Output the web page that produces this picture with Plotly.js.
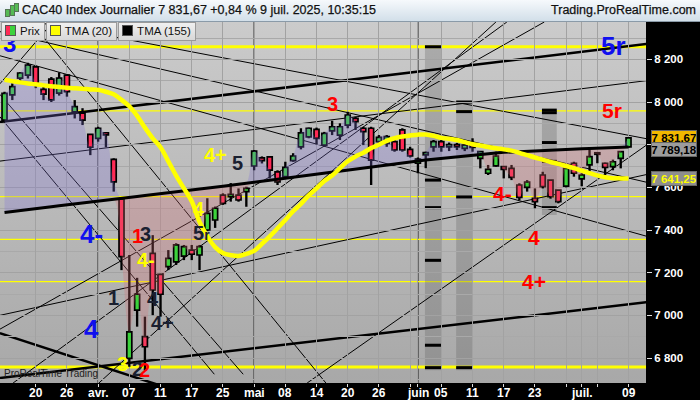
<!DOCTYPE html>
<html><head><meta charset="utf-8">
<script src="https://cdn.plot.ly/plotly-3.0.1.min.js"></script>
<style>
body{margin:0;width:700px;height:400px;overflow:hidden;background:#000;font-family:"Liberation Sans",Arial,sans-serif;position:relative}
#hdr{position:absolute;left:0;top:0;width:700px;height:21px;background:linear-gradient(#f6f9fc,#d2dfe9);border-bottom:1px solid #8a9aa8;z-index:3}
#hdr .t{position:absolute;left:22px;top:3px;font-size:12.5px;color:#111;white-space:nowrap;-webkit-text-stroke:0.25px #111}
#hdr .r{position:absolute;right:4px;top:3px;font-size:12.5px;color:#111;white-space:nowrap;-webkit-text-stroke:0.25px #111}
#ico{position:absolute;left:4px;top:3px;width:14px;height:15px}
#ico i{position:absolute;display:block;width:3px;background:#55bb55;border:1px solid #557755}
#bg{position:absolute;left:0;top:22px;width:646px;height:361px;background:linear-gradient(#cbcbcb,#a8a8a8)}
#chart{position:absolute;left:0;top:0;width:700px;height:400px}
#leg{position:absolute;left:1px;top:22px;height:18px;z-index:3;display:flex}
#leg div{height:17px;border:1px solid #9a9a9a;background:linear-gradient(#f0f0f0,#d8d8d8);font-size:11.5px;color:#111;line-height:17px;padding:0 4px 0 3px;margin-right:1px;white-space:nowrap}
#leg b{display:inline-block;width:9px;height:9px;margin-right:4px;vertical-align:-1px;border:1px solid #555}
</style></head>
<body>
<div id="bg"></div>
<div id="chart"></div>
<div id="hdr"><div id="ico"><i style="left:1px;top:6px;height:6px"></i><i style="left:6px;top:2px;height:9px"></i><i style="left:10px;top:0px;height:7px"></i></div>
<div class="t">CAC40 Index Journalier 7 831,67 +0,84 % 9 juil. 2025, 10:35:15</div>
<div class="r">Trading.ProRealTime.com</div></div>
<div id="leg"><div><b style="background:linear-gradient(90deg,#ff2a55 50%,#3cd23c 50%)"></b>Prix</div><div><b style="background:#ffff00"></b>TMA (20)</div><div><b style="background:#000"></b>TMA (155)</div></div>
<script>
const dates = ["2025-03-14","2025-03-17","2025-03-18","2025-03-19","2025-03-20","2025-03-21","2025-03-24","2025-03-25","2025-03-26","2025-03-27","2025-03-28","2025-03-31",
"2025-04-01","2025-04-02","2025-04-03","2025-04-04","2025-04-07","2025-04-08","2025-04-09","2025-04-10","2025-04-11","2025-04-14","2025-04-15","2025-04-16","2025-04-17","2025-04-22","2025-04-23","2025-04-24","2025-04-25","2025-04-28","2025-04-29","2025-04-30",
"2025-05-02","2025-05-05","2025-05-06","2025-05-07","2025-05-08","2025-05-09","2025-05-12","2025-05-13","2025-05-14","2025-05-15","2025-05-16","2025-05-19","2025-05-20","2025-05-21","2025-05-22","2025-05-23","2025-05-26","2025-05-27","2025-05-28","2025-05-29","2025-05-30",
"2025-06-02","2025-06-03","2025-06-04","2025-06-05","2025-06-06","2025-06-09","2025-06-10","2025-06-11","2025-06-12","2025-06-13","2025-06-16","2025-06-17","2025-06-18","2025-06-19","2025-06-20","2025-06-23","2025-06-24","2025-06-25","2025-06-26","2025-06-27","2025-06-30",
"2025-07-01","2025-07-02","2025-07-03","2025-07-04","2025-07-07","2025-07-08","2025-07-09"];
const open  = [7915,8033,8112,8126,8165,8059,8107,8042,8126,7954,7948,7848,7830,7856,7731,7545,6798,7025,6900,7291,7192,7228,7251,7278,7306,7283,7400,7447,7564,7556,7564,7580,
7700,7738,7743,7673,7650,7725,7790,7837,7872,7798,7865,7845,7892,7923,7877,7877,7814,7806,7814,7869,7778,
7713,7752,7790,7814,7790,7800,7783,7806,7736,7666,7701,7697,7689,7611,7600,7548,7658,7634,7587,7606,7713,7640,7705,7762,7713,7697,7736,7790];
const high  = [8048,8087,8140,8184,8170,8072,8117,8139,8130,8009,7971,7850,7884,7858,7736,7545,7283,7176,6994,7376,7195,7306,7338,7330,7330,7330,7549,7510,7572,7620,7595,7603,
7775,7745,7745,7680,7720,7760,7877,7880,7880,7860,7912,7900,7954,7931,7884,7884,7845,7845,7822,7877,7790,
7740,7767,7822,7822,7810,7808,7806,7830,7770,7705,7767,7697,7705,7619,7634,7595,7673,7634,7587,7700,7720,7666,7775,7764,7716,7730,7767,7836];
const low   = [7908,8009,8093,8110,8065,8009,8000,8030,8025,7923,7892,7751,7814,7788,7580,7212,6759,6947,6744,7001,6994,7212,7236,7259,7259,7212,7395,7410,7518,7533,7533,7509,
7680,7712,7642,7611,7640,7720,7778,7830,7800,7790,7845,7822,7877,7869,7798,7611,7790,7790,7767,7767,7740,
7666,7690,7767,7767,7770,7775,7770,7767,7689,7658,7697,7642,7634,7540,7580,7502,7595,7547,7525,7600,7650,7605,7666,7713,7658,7680,7689,7786];
const close = [8040,8072,8136,8173,8087,8037,8010,8112,8048,7978,7915,7788,7877,7846,7626,7275,6923,7099,6853,7119,7099,7267,7330,7322,7287,7322,7478,7502,7525,7567,7541,7595,
7770,7725,7681,7626,7694,7747,7855,7877,7830,7853,7884,7884,7939,7908,7861,7728,7834,7838,7775,7775,7747,
7732,7763,7814,7790,7800,7790,7798,7787,7767,7684,7747,7684,7647,7553,7625,7533,7603,7556,7533,7689,7666,7658,7744,7755,7694,7720,7767,7831.67];
const tma20 = [8104,8098,8092,8087,8083,8078,8074,8070,8067,8064,8062,8059,8057,8048,8036,8010,7980,7935,7880,7830,7788,7722,7655,7595,7535,7438,7370,7320,7292,7282,7278,7288,
7302,7335,7370,7408,7447,7488,7522,7562,7595,7630,7655,7690,7722,7745,7762,7784,7800,7818,7830,7838,7843,
7847,7848,7842,7832,7828,7822,7812,7802,7796,7789,7783,7778,7772,7762,7751,7740,7730,7719,7710,7700,7690,7678,7667,7656,7647,7643,7642,7641.25];
const tma155 = [7482,7486,7491,7495,7500,7505,7509,7514,7518,7523,7527,7531,7536,7540,7544,7548,7553,7557,7562,7566,7570,7574,7579,7583,7588,7592,7596,7601,7605,7610,7614,7619,
7624,7628,7633,7638,7643,7648,7652,7657,7662,7667,7672,7676,7681,7686,7691,7696,7700,7705,7710,7715,7719,
7724,7728,7732,7736,7740,7744,7748,7752,7755,7758,7761,7764,7766,7768,7770,7772,7774,7776,7778,7779,7780,7781,7782,7784,7785,7786,7788,7789.18];
const tickIdx  = [4,8,12,16,20,24,28,32,36,40,44,48,52,53,56,60,64,68,72,74,76,80];
const tickText = ["20","26","avr.","07","11","17","25","mai","08","14","20","26","","juin","05","11","17","23","","juil.","","09"];
const monthIdx = [12,32,53];
const yTicks = [6800,7000,7200,7400,7600,7800,8000,8200];
const yTickText = ["6 800","7 000","7 200","7 400","7 600","7 800","8 000","8 200"];
const levels = [8259,7958,7557,7356,7158,6758];
const levelWide = [true,false,false,false,false,true];
// trend lines: [index0, price0, index1, price1, thick]
const trendLines = [
 [-0.6,7906,82.3,8272,1],
 [-0.6,6706,82.3,7062,1],
 [-0.6,6917,22.5,6641,1],
 [-0.6,8217,82.3,7371,0],
 [4.0,8375,82.3,7828,0],
 [-0.6,8330,82.3,7624,0],
 [-0.6,7723,82.3,8100,0],
 [-0.6,7000,82.3,7660,0],
 [-0.6,8036,30.6,6724,0],
 [-0.6,7931,26.9,6724,0],
 [3.4,8375,41.2,6683,0],
 [-0.6,8085,6.2,8375,0],
 [1.1,6683,64.4,8375,0],
 [-0.6,6935,69.2,8375,0],
 [12.1,6683,63.0,8375,0],
 [38.8,6683,82.3,7798,0]
];
const bands = [
 [53.9,56.0,8259,6743,[8259,7634,7505,7258,6860,6755]],
 [57.9,60.0,8000,6743,[8000,7955,7555,6755]],
 [68.9,70.8,7962,7470,[7962,7950,7810,7722,7505]]
];
const labels = [
 ["3",0.6,8272,"#1010ee",24],["5r",78.1,8262,"#1010ee",26],["5r",77.9,7962,"#ff0000",21],["3",42,7990,"#ff0000",20],
 ["4+",27,7752,"#ffff00",20],["5",29.9,7714,"#1a2030",20],["4",24.9,7498,"#ffff00",20],["5<span style='font-size:14px'>r</span>",25.3,7386,"#1a2030",20],
 ["4-",11.2,7382,"#1010ee",26],["1",17,7372,"#ff0000",20],["3",18.1,7382,"#1a2030",20],["4-",18.2,7259,"#ffff00",20],
 ["1",14,7082,"#1a2030",20],["4",19,7077,"#1a2030",20],["4+",20.3,6965,"#1a2030",20],["4",11.1,6936,"#1010ee",26],
 ["3",15.1,6772,"#ffff00",20],["2",17,6748,"#1a2030",20],["2",18,6744,"#ff0000",20],
 ["4-",63.9,7569,"#ff0000",21],["4",67.9,7367,"#ff0000",21],["4+",67.9,7161,"#ff0000",21]
];

const upper = close.map((c,i)=>Math.max(c,tma155[i]));
const lower = close.map((c,i)=>Math.min(c,tma155[i]));
const isUp = close.map((c,i)=>c>=open[i]);
const bodyBase = close.map((c,i)=>Math.min(c,open[i]));
const bodyLen = close.map((c,i)=>Math.max(Math.abs(c-open[i]),4));
const traces = [
 {x:dates,y:tma155,type:'scatter',mode:'lines',line:{width:0},hoverinfo:'skip'},
 {x:dates,y:upper,type:'scatter',mode:'lines',line:{width:0,shape:'spline'},fill:'tonexty',fillcolor:'rgba(130,115,215,0.28)',hoverinfo:'skip'},
 {x:dates,y:tma155,type:'scatter',mode:'lines',line:{width:0},hoverinfo:'skip'},
 {x:dates,y:lower,type:'scatter',mode:'lines',line:{width:0,shape:'spline'},fill:'tonexty',fillcolor:'rgba(215,110,120,0.28)',hoverinfo:'skip'},
 {x:dates,y:tma155,type:'scatter',mode:'lines',line:{color:'#000',width:3}},
 {x:dates,y:tma20,type:'scatter',mode:'lines',line:{color:'#ffff00',width:4.5,shape:'spline'}},
 {x:dates,y:high.map((h,i)=>h-low[i]),base:low,type:'bar',width:0.3,marker:{color:'#000',line:{width:0}}},
 {x:dates,y:bodyLen,base:bodyBase,type:'bar',width:0.64,marker:{color:isUp.map(u=>u?'#3cd23c':'#ff2a55'),line:{color:'#000',width:1.7}}}
];
const shapes = [];
bands.forEach(b=>{
 shapes.push({type:'rect',xref:'x',yref:'y',x0:b[0],x1:b[1],y0:b[3],y1:b[2],fillcolor:'rgba(90,90,90,0.28)',line:{width:0},layer:'below'});
 b[4].forEach(p=>shapes.push({type:'line',xref:'x',yref:'y',x0:b[0],x1:b[1],y0:p,y1:p,line:{color:'#000',width:3},layer:'below'}));
});
monthIdx.forEach(k=>shapes.push({type:'line',xref:'x',yref:'paper',x0:k,x1:k,y0:0,y1:1,line:{color:'#000',width:1},layer:'below'}));
levels.forEach((p,i)=>shapes.push({type:'line',xref:'paper',yref:'y',x0:0,x1:1,y0:p,y1:p,line:{color:'#ffff00',width:levelWide[i]?3:1.2},layer:'below'}));
trendLines.forEach(t=>shapes.push({type:'line',xref:'x',yref:'y',x0:t[0],y0:t[1],x1:t[2],y1:t[3],line:{color:'#000',width:t[4]?2.5:1},layer:'below'}));

const F = 'Liberation Sans, Arial';
const ann = labels.map(l=>({x:l[1],y:l[2],xref:'x',yref:'y',text:l[0],showarrow:false,font:{family:F,size:l[4],color:l[3],weight:'bold'}}));
tickIdx.forEach((k,i)=>{ if(tickText[i]) ann.push({x:dates[k],y:0,xref:'x',yref:'paper',yanchor:'top',yshift:-1,text:tickText[i],showarrow:false,font:{family:F,size:12,color:'#fff',weight:'bold'}}); });
const last = close.length-1;
[[close[last],'#f2b800','#000',0],[tma155[last],'#9c9c9c','#000',-3],[tma20[last],'#8e8e8e','#ffff00',0]].forEach(v=>{
 ann.push({xref:'paper',yref:'y',x:1,xanchor:'left',xshift:5,y:v[0],yshift:v[3],width:44,height:13,align:'center',
  text:v[0].toLocaleString('fr-FR',{minimumFractionDigits:2}).replace(/\u202f|\u00a0/g,' '),showarrow:false,
  bgcolor:v[1],bordercolor:'#666',borderwidth:1,borderpad:0,font:{family:F,size:11.5,color:v[2],weight:'bold'}});
});
ann.push({xref:'paper',yref:'paper',x:0.003,y:0.005,xanchor:'left',yanchor:'bottom',text:'ProRealTime Trading',showarrow:false,font:{family:F,size:10,color:'#222'}});

const layout = {
 width:700,height:400,margin:{l:0,r:54,t:22,b:17},barmode:'overlay',
 paper_bgcolor:'rgba(0,0,0,0)',plot_bgcolor:'rgba(0,0,0,0)',showlegend:false,
 xaxis:{type:'category',range:[-0.58,82.24],tickvals:tickIdx.map(i=>dates[i]),ticktext:tickText,showticklabels:false,
  showgrid:true,gridcolor:'#a2a2a2',gridwidth:1,ticks:'outside',ticklen:3,tickcolor:'#ddd',zeroline:false,fixedrange:true},
 yaxis:{side:'right',range:[6683,8375],tickvals:yTicks,ticktext:yTickText,showgrid:true,gridcolor:'#a2a2a2',
  minor:{dtick:100,showgrid:true,gridcolor:'#a9a9a9'},ticks:'outside',ticklen:5,tickcolor:'#ddd',
  tickfont:{family:F,size:11.5,color:'#fff',weight:'bold'},zeroline:false,fixedrange:true},
 shapes:shapes,annotations:ann,hovermode:false
};
Plotly.newPlot('chart',traces,layout,{displayModeBar:false,staticPlot:true});
</script>
</body></html>
